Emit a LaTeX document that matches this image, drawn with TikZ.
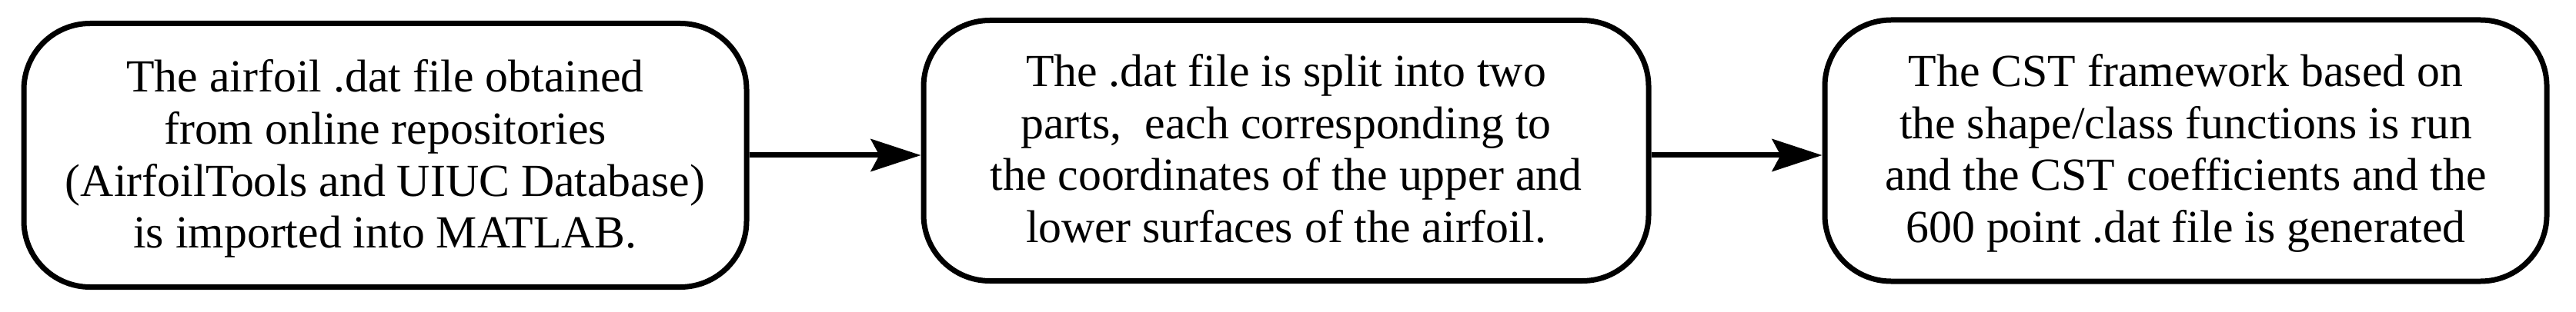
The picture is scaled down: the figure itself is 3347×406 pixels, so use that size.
\documentclass[tikz,border=0pt]{standalone}
\usepackage{fontspec}
\setmainfont{Liberation Serif}
\usetikzlibrary{arrows.meta}
\newcommand\myTopA{\rule{0pt}{13.0pt}}
\newcommand\myTopB{\rule{0pt}{12.5pt}}
\newcommand\myBot{\rule[-3.4pt]{0pt}{3.4pt}}
\tikzset{
  flowbox/.style={draw=black, line width=1.75pt, rounded corners=21.5pt,
    align=center, inner sep=0pt, fill=white,
    font=\fontsize{14.95pt}{16.9pt}\selectfont},
  flowarrow/.style={draw=black, line width=1.75pt,
    -{Stealth[length=16.25pt, width=10.5pt, inset=2.75pt]}}
}
\begin{document}
\begin{tikzpicture}[x=0.25pt, y=-0.25pt]
  \useasboundingbox (0,0) rectangle (3347,406);
  \node[flowbox, minimum width=234.75pt, minimum height=85.75pt] (b1) at (500.5,202)
    {\myTopA The airfoil .dat file obtained\\
     from online repositories\\
     (AirfoilTools and UIUC Database)\\
     is imported into MATLAB.\myBot};
  \node[flowbox, minimum width=235.5pt, minimum height=84.75pt] (b2) at (1671,196)
    {\myTopB The .dat file is split into two\\
     parts,\ \ each corresponding to\\
     the coordinates of the upper and\\
     lower surfaces of the airfoil.\myBot};
  \node[flowbox, minimum width=234.5pt, minimum height=85pt] (b3) at (2840,196)
    {\myTopB The CST framework based on\\
     the shape/class functions is run\\
     and the CST coefficients and the\\
     600 point .dat file is generated\myBot};
  \draw[flowarrow] (b1.east) -- (b1.east -| b2.west);
  \draw[flowarrow] (b1.east -| b2.east) -- (b1.east -| b3.west);
\end{tikzpicture}
\end{document}
